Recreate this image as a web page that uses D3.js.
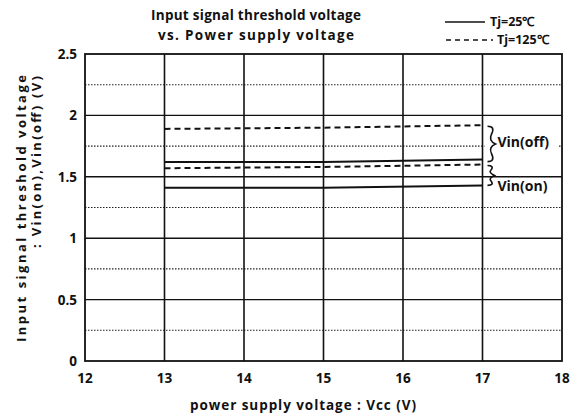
<!DOCTYPE html>
<html>
<head>
<meta charset="utf-8">
<script src="https://cdn.jsdelivr.net/npm/d3@7"></script>
<style>
  body { margin: 0; background: #fff; }
  text { font-family: "Open Sans", Lato, sans-serif; font-weight: 700; fill: #111; }
</style>
</head>
<body>
<svg id="chart" width="581" height="417"></svg>
<script>
// data
const vcc = [13, 15, 17]
const vinOff125 = [1.89, 1.90, 1.92]
const vinOff25 = [1.62, 1.62, 1.64]
const vinOn125 = [1.57, 1.58, 1.60]
const vinOn25 = [1.41, 1.41, 1.43]
const xTicks = [12, 13, 14, 15, 16, 17, 18]
const yTicks = [0, 0.5, 1, 1.5, 2, 2.5]
const yMinor = [0.25, 0.75, 1.25, 1.75, 2.25]

const svg = d3.select('#chart')
const x = d3.scaleLinear().domain([12, 18]).range([85, 562])
const y = d3.scaleLinear().domain([0, 2.5]).range([361, 54])

// dotted minor grid
svg.append('g').selectAll('line').data(yMinor).join('line')
  .attr('x1', x(12)).attr('x2', x(18))
  .attr('y1', d => y(d)).attr('y2', d => y(d))
  .attr('stroke', '#222').attr('stroke-width', 1.1)
  .attr('stroke-dasharray', '1.5,1.5')

// solid major grid
svg.append('g').selectAll('line').data(yTicks.slice(1, -1)).join('line')
  .attr('x1', x(12)).attr('x2', x(18))
  .attr('y1', d => y(d)).attr('y2', d => y(d))
  .attr('stroke', '#111').attr('stroke-width', 1.4)
svg.append('g').selectAll('line').data(xTicks.slice(1, -1)).join('line')
  .attr('x1', d => x(d)).attr('x2', d => x(d))
  .attr('y1', y(0)).attr('y2', y(2.5))
  .attr('stroke', '#111').attr('stroke-width', 1.6)

// frame
svg.append('rect')
  .attr('x', x(12)).attr('y', y(2.5))
  .attr('width', x(18) - x(12)).attr('height', y(0) - y(2.5))
  .attr('fill', 'none').attr('stroke', '#111').attr('stroke-width', 1.8)

// tick labels
svg.append('g').selectAll('text').data(yTicks).join('text')
  .attr('x', 77).attr('y', d => y(d) + 5)
  .attr('text-anchor', 'end').attr('font-size', 13.5)
  .text(d => d)
svg.append('g').selectAll('text').data(xTicks).join('text')
  .attr('x', d => x(d)).attr('y', 383)
  .attr('text-anchor', 'middle').attr('font-size', 13.5)
  .text(d => d)

// data lines
const line = d3.line().x((d, i) => x(vcc[i])).y(d => y(d))
const series = [
  { v: vinOff125, dash: '6,4' },
  { v: vinOff25, dash: null },
  { v: vinOn125, dash: '6,4' },
  { v: vinOn25, dash: null }
]
svg.append('g').selectAll('path').data(series).join('path')
  .attr('d', d => line(d.v))
  .attr('fill', 'none').attr('stroke', '#111').attr('stroke-width', 2)
  .attr('stroke-dasharray', d => d.dash)

// braces + labels
function brace(x0, y0, y1, w){
  const m = (y0 + y1) / 2
  return `M${x0},${y0} Q${x0 + w},${y0} ${x0 + w / 2},${y0 + (m - y0) * 0.45}
    Q${x0 + w * 0.1},${m - 3} ${x0 + w},${m}
    Q${x0 + w * 0.1},${m + 3} ${x0 + w / 2},${y1 - (y1 - m) * 0.45}
    Q${x0 + w},${y1} ${x0},${y1}`
}
const last = vcc.length - 1
svg.append('rect').attr('x', x(17) + 2).attr('y', y(1.75) - 6).attr('width', 74).attr('height', 12).attr('fill', '#fff')
svg.append('path').attr('d', brace(x(17) + 5, y(vinOff125[last]) + 1, y(vinOff25[last]) + 2, 8))
  .attr('fill', 'none').attr('stroke', '#111').attr('stroke-width', 1.6)
svg.append('path').attr('d', brace(x(17) + 5, y(vinOn125[last]) + 1, y(vinOn25[last]), 7))
  .attr('fill', 'none').attr('stroke', '#111').attr('stroke-width', 1.6)
svg.append('text').attr('x', x(17) + 15).attr('y', y(1.78) + 5).attr('font-size', 14).text('Vin(off)')
svg.append('text').attr('x', x(17) + 15).attr('y', y(1.5) + 14).attr('font-size', 14).text('Vin(on)')

// title
svg.append('text').attr('x', 256).attr('y', 20).attr('text-anchor', 'middle')
  .attr('font-size', 13.5).attr('textLength', 210).text('Input signal threshold voltage')
svg.append('text').attr('x', 256).attr('y', 40).attr('text-anchor', 'middle')
  .attr('font-size', 13.5).attr('textLength', 196).text('vs.  Power supply voltage')

// legend
svg.append('line').attr('x1', 445).attr('x2', 485).attr('y1', 22).attr('y2', 22)
  .attr('stroke', '#111').attr('stroke-width', 1.6)
svg.append('line').attr('x1', 446).attr('x2', 493).attr('y1', 40).attr('y2', 40)
  .attr('stroke', '#111').attr('stroke-width', 1.6).attr('stroke-dasharray', '5,4')
svg.append('text').attr('x', 490).attr('y', 26).attr('font-size', 12.5).text('Tj=25℃')
svg.append('text').attr('x', 497).attr('y', 44).attr('font-size', 12.5).text('Tj=125℃')

// axis titles
svg.append('text').attr('x', 303).attr('y', 410).attr('text-anchor', 'middle')
  .attr('font-size', 13.5).attr('textLength', 226).text('power supply voltage : Vcc  (V)')
svg.append('text').attr('transform', 'translate(26,342) rotate(-90)')
  .attr('font-size', 13).attr('textLength', 267).text('Input signal threshold voltage')
svg.append('text').attr('transform', 'translate(41,248) rotate(-90)')
  .attr('font-size', 13).attr('textLength', 172).text(': Vin(on),Vin(off)  (V)')
</script>
</body>
</html>
